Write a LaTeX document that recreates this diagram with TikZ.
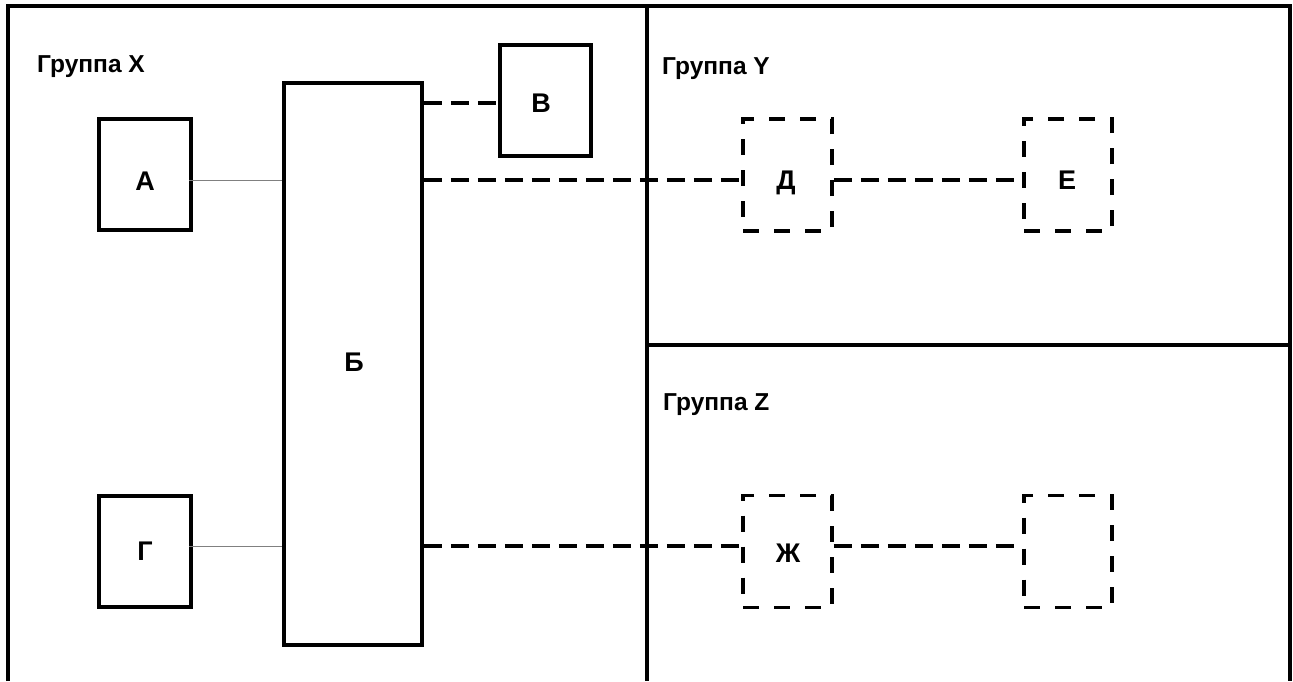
\documentclass[tikz,border=0pt]{standalone}
\usepackage{fontspec}
\setmainfont{Liberation Sans}
\begin{document}
\begin{tikzpicture}[x=1pt,y=-1pt,
  frameline/.style={line width=4pt,black},
  solidbox/.style={draw=black,line width=3.6pt,fill=white,inner sep=0pt},
  dashbox/.style={draw=black,line width=3.6pt,dash pattern=on 16pt off 15pt,inner sep=0pt},
  boxtext/.style={inner sep=0pt,font=\fontsize{27}{30}\selectfont\bfseries},
  thinlink/.style={draw=gray,line width=1pt},
  dashlink/.style={draw=black,line width=3.6pt,dash pattern=on 18pt off 9pt},
  grouplabel/.style={anchor=base west,inner sep=0pt,font=\fontsize{24.5}{28}\selectfont\bfseries}
]
\useasboundingbox (0,0) rectangle (1293,681);
\fill[white] (0,0) rectangle (1293,681);
% frames
\draw[frameline] (8,681) -- (8,6) -- (1290,6) -- (1290,681);
\draw[frameline] (647,6) -- (647,681);
\draw[frameline] (647,345) -- (1290,345);
% group labels
\node[grouplabel] (gx) at (37,72) {Группа X};
\node[grouplabel] (gy) at (662,74) {Группа Y};
\node[grouplabel] (gz) at (663,410) {Группа Z};
% boxes
\node[solidbox,minimum width=92pt,minimum height=111pt] (A) at (145,174.5) {};
\node[solidbox,minimum width=92pt,minimum height=111pt] (G) at (145,551.5) {};
\node[solidbox,minimum width=138pt,minimum height=562pt] (B) at (353,364) {};
\node[solidbox,minimum width=91pt,minimum height=111pt] (V) at (545.5,100.5) {};
\node[dashbox,minimum width=89pt,minimum height=112pt] (D) at (787.5,175) {};
\node[dashbox,minimum width=88pt,minimum height=112pt] (E) at (1068,175) {};
\node[dashbox,minimum width=89pt,minimum height=112pt] (Zh) at (787.5,551.5) {};
\node[dashbox,minimum width=88pt,minimum height=112pt] (N) at (1068,551.5) {};
% box texts
\node[boxtext] (At) at (145,181) {А};
\node[boxtext] (Gt) at (145,551) {Г};
\node[boxtext] (Bt) at (354,362) {Б};
\node[boxtext] (Vt) at (541,103) {В};
\node[boxtext] (Dt) at (786,183) {Д};
\node[boxtext] (Et) at (1067,180) {Е};
\node[boxtext] (Zht) at (788,553) {Ж};
% connectors
\draw[thinlink] ([xshift=-4pt,yshift=-5.5pt]A.east) -- ([yshift=-5.5pt]A.east -| B.west);
\draw[thinlink] ([xshift=-4pt,yshift=5.5pt]G.east) -- ([yshift=5.5pt]G.east -| B.west);
\draw[dashlink] ([yshift=-2.5pt]V.west -| B.east) -- ([yshift=-2.5pt]V.west);
\draw[dashlink] ([yshift=-5pt]D.west -| B.east) -- ([yshift=-5pt]D.west);
\draw[dashlink] ([yshift=-5pt]D.east) -- ([yshift=-5pt]E.west);
\draw[dashlink] ([yshift=5.5pt]Zh.west -| B.east) -- ([yshift=5.5pt]Zh.west);
\draw[dashlink] ([yshift=5.5pt]Zh.east) -- ([yshift=5.5pt]N.west);
\end{tikzpicture}
\end{document}
